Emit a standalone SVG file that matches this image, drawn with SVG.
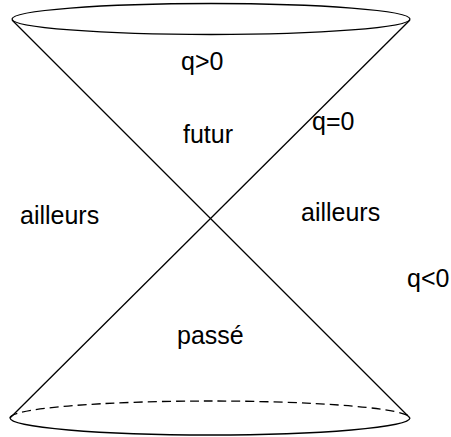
<svg xmlns="http://www.w3.org/2000/svg" width="451" height="437" viewBox="0 0 451 437">
<style>
.ln{stroke:#000;stroke-width:1.3;fill:none}
.t{font-family:"Liberation Sans",Arial,sans-serif;font-size:25px;fill:#000}
</style>
<rect width="451" height="437" fill="#fff"/>
<g id="connectors">
<line class="ln" x1="12" y1="20" x2="410" y2="418"/>
<line class="ln" x1="410" y1="20" x2="10" y2="418"/>
</g>
<g id="top-ellipse"><ellipse class="ln" cx="211" cy="19" rx="199" ry="15.5"/></g>
<g id="bottom-ellipse">
<path class="ln" d="M10,418 A200,17 0 0 1 410,418" stroke-dasharray="9,5"/>
<path class="ln" d="M10,418 A200,17 0 0 0 410,418" stroke-width="2"/>
</g>
<g id="labels">
<text class="t" x="181" y="70">q&gt;0</text>
<text class="t" x="183" y="143">futur</text>
<text class="t" x="312" y="130">q=0</text>
<text class="t" x="20" y="224">ailleurs</text>
<text class="t" x="301" y="221">ailleurs</text>
<text class="t" x="407" y="287">q&lt;0</text>
<text class="t" x="177" y="344">passé</text>
</g>
</svg>
